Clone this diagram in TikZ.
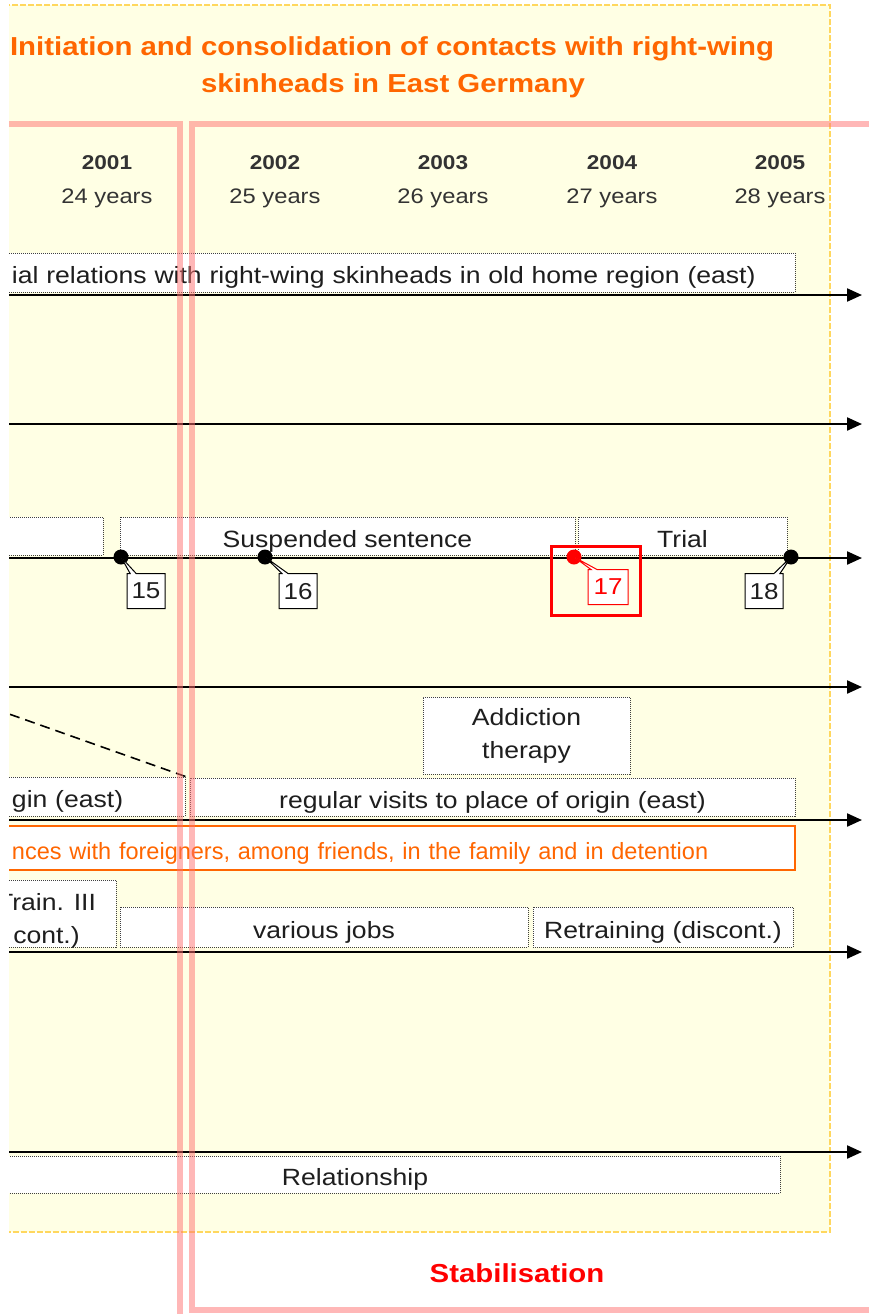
\documentclass[tikz,border=0pt]{standalone}
\usepackage{fontspec}
\setmainfont{Liberation Sans}[FakeStretch=1.13]
\newfontfamily\tlnarrow{Liberation Sans}[FakeStretch=1.0]
\usetikzlibrary{arrows.meta,shapes.callouts}
\definecolor{phasebg}{HTML}{FFFFE4}
\definecolor{phaseline}{HTML}{FFD75E}
\definecolor{titleorange}{HTML}{FF6600}
\definecolor{framepink}{HTML}{FF7070}
\definecolor{darktext}{HTML}{1E1E1E}
\newcommand{\tlfont}{\fontsize{23.5}{33}\selectfont}
\newcommand{\tlyearfont}{\fontsize{20}{24}\selectfont\bfseries}
\newcommand{\tlagefont}{\fontsize{21}{25}\selectfont}
\newcommand{\tltitlefont}{\fontsize{26}{31}\selectfont\bfseries}
\newcommand{\tlnumfont}{\fontsize{23}{27}\selectfont}
\begin{document}
\begin{tikzpicture}
  [x=1pt,y=-1pt,every node/.style={inner sep=0pt,text=darktext,font=\tlfont},
   barbox/.style={draw=black!75,densely dotted,line width=1pt,fill=white,minimum height=38pt},
   bar/.style={barbox,text height=22pt,text depth=0pt},
   tline/.style={line width=2.2pt,-{Triangle[length=15pt,width=13pt]}},
   event/.style={circle,fill=black,minimum size=15pt},
   num/.style={rectangle callout,draw=black,fill=white,line width=1pt,minimum width=38pt,
     minimum height=35pt,callout pointer width=6pt,font=\tlnumfont,text depth=0pt},
   frame/.style={line width=6pt,draw=framepink,opacity=0.5}]
\useasboundingbox (0,0) rectangle (869,1314);
\begin{scope}
\clip (9,0) rectangle (869,1314);
% phase
\draw[phaseline,fill=phasebg,line width=2.5pt,dash pattern=on 6pt off 2pt] (0,5) rectangle (830,1232);
\node (title1)[font=\tltitlefont,text=titleorange,text depth=0pt] at (392,46) {Initiation and consolidation of contacts with right-wing};
\node (title2)[font=\tltitlefont,text=titleorange,text depth=0pt] at (393,83) {skinheads in East Germany};
\node (stab)[font=\tltitlefont,text=red] at (517,1273) {Stabilisation};

\foreach \yr/\age/\x in {2001/24/107,2002/25/275,2003/26/443,2004/27/612,2005/28/780}{
  \node (y\yr)[font=\tlyearfont,text=black!80,text depth=0pt] at (\x,163) {\yr};
  \node (a\yr)[font=\tlagefont,text=black!80,text depth=0pt] at (\x,196) {\age\ years};
}

% time lines
\foreach \y [count=\i] in {295,424,558,687,820,952,1152}{
  \coordinate (s\i) at (0,\y);
  \coordinate (e\i) at (862,\y);
  \draw[tline] (s\i) -- (e\i);
}

\node (rel)[bar,minimum height=39pt,inner xsep=7pt,text width=776pt,align=left] at (400,272.5)
  {ial relations with right-wing skinheads in old home region (east)};

\node (before)[bar,minimum width=106pt] at (50,536) {};
\node (susp)[bar,minimum width=455pt] at (347.5,536) {Suspended sentence};
\node (trial)[bar,minimum width=209pt] at (682.5,536) {Trial};

\node (addict)[barbox,minimum width=207pt,minimum height=77pt,align=center] at (526.5,735.5) {Addiction\\therapy};
\node (gin)[bar,minimum height=39pt,inner xsep=7pt,text width=166pt,align=left] at (95,796.5) {gin (east)};
\node (visits)[bar,minimum width=605pt] at (492.5,797) {regular visits to place of origin (east)};
\draw[line width=1.6pt,dash pattern=on 10pt off 6pt] (-5,709) -- (gin.north east);

\node (exp)[draw=titleorange,line width=1.2pt,fill=white,minimum height=44pt,inner xsep=7pt,
  text height=22pt,text depth=0pt,text width=776pt,align=left,text=titleorange,font=\tlnarrow\tlfont] at (400,848)
  {nces with foreigners, among friends, in the family and in detention};

\node (train)[barbox] at (46.5,913.5)
  {\parbox[c][67pt][t]{139pt}{\centering\vspace*{13pt}Train. III\\cont.)}};
\node (jobs)[bar,minimum width=408pt,minimum height=40pt] at (324,927) {various jobs};
\node (retrain)[bar,minimum width=260pt,minimum height=40pt] at (663,927) {Retraining (discont.)};

\node (relship)[bar,minimum width=850pt,minimum height=37pt] at (355,1174.5) {Relationship};

% events
\node (ev15)[event] at (121,557) {};
\node (ev16)[event] at (265,557) {};
\node (ev17)[event,fill=red] at (574,557) {};
\node (ev18)[event] at (791,557) {};
\node (n15)[num,callout absolute pointer={(ev15.center)}] at (146,591) {15};
\node (n16)[num,callout absolute pointer={(ev16.center)}] at (298,591) {16};
\node (n17)[num,draw=red,text=red,minimum width=40pt,callout absolute pointer={(ev17.center)}] at (608,587) {17};
\node (n18)[num,callout absolute pointer={(ev18.center)}] at (764,591) {18};
\node (hl17)[draw=red,line width=3pt,minimum width=89pt,minimum height=69pt] at (595.5,580.5) {};

% phase frames
\draw[frame] (-5,124) -- (180,124) -- (180,1330);
\draw[frame] (880,124) -- (192,124) -- (192,1310) -- (880,1310);
\end{scope}
\end{tikzpicture}
\end{document}
